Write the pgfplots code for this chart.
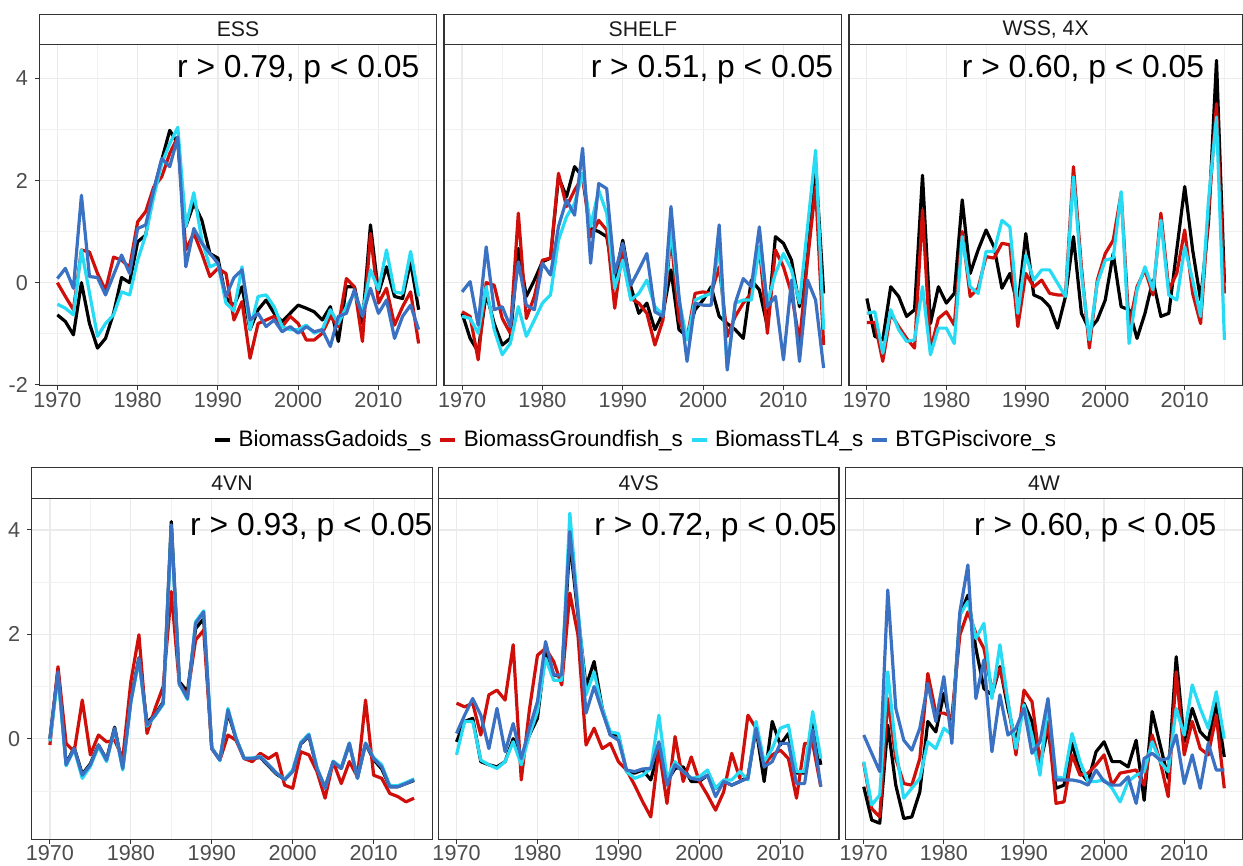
\documentclass[border=0pt]{standalone}
\usepackage{fontspec}
\setmainfont{Liberation Sans}
\usepackage{pgfplots}
\pgfplotsset{compat=1.18}
\usepackage{pgfplotstable}

\definecolor{cGad}{HTML}{000000}
\definecolor{cGro}{HTML}{D00F0A}
\definecolor{cTL}{HTML}{26DBF3}
\definecolor{cBTG}{HTML}{3B71C2}
\definecolor{grey10}{HTML}{1A1A1A}
\definecolor{grey20}{HTML}{333333}
\definecolor{grey30}{HTML}{4D4D4D}
\definecolor{grey92}{HTML}{EBEBEB}

% year, BiomassGadoids_s, BiomassGroundfish_s, BiomassTL4_s, BTGPiscivore_s
\pgfplotstableread{
year gad gro tl btg
1970 -0.63 0.00 -0.42 0.08
1971 -0.76 -0.27 -0.50 0.28
1972 -1.02 -0.53 -0.63 -0.11
1973 0.00 0.64 0.64 1.71
1974 -0.80 0.60 -0.20 0.12
1975 -1.28 0.18 -1.05 0.10
1976 -1.09 -0.15 -0.80 -0.24
1977 -0.60 0.50 -0.63 0.15
1978 0.10 0.44 -0.18 0.54
1979 0.00 0.30 -0.24 0.18
1980 0.80 1.19 0.44 1.06
1981 0.93 1.39 0.93 1.13
1982 1.81 1.87 1.68 1.81
1983 2.40 2.07 2.33 2.43
1984 2.98 2.53 2.72 2.27
1985 2.72 2.85 3.04 2.85
1986 1.10 0.64 1.10 0.31
1987 1.55 0.97 1.76 1.06
1988 1.22 0.57 0.83 0.77
1989 0.57 0.12 0.31 0.57
1990 0.48 0.28 0.38 0.38
1991 -0.30 0.18 -0.40 -0.27
1992 -0.45 -0.73 -0.55 0.10
1993 -0.08 -0.37 0.31 0.25
1994 -0.92 -1.48 -0.92 -0.73
1995 -0.53 -0.80 -0.27 -0.60
1996 -0.34 -0.73 -0.24 -0.86
1997 -0.60 -0.66 -0.47 -0.73
1998 -0.76 -0.86 -0.86 -0.96
1999 -0.60 -0.66 -0.92 -0.86
2000 -0.44 -0.80 -0.92 -0.99
2001 -0.50 -1.12 -0.83 -0.86
2002 -0.57 -1.12 -0.99 -0.96
2003 -0.73 -0.99 -0.92 -0.92
2004 -0.47 -0.66 -0.53 -1.25
2005 -1.15 -0.86 -0.80 -0.66
2006 -0.08 0.08 -0.47 -0.60
2007 -0.08 -0.08 -0.21 -0.14
2008 -0.80 -1.15 -0.60 -0.66
2009 1.13 0.96 0.25 -0.11
2010 -0.21 -0.40 -0.14 -0.60
2011 0.31 -0.11 0.64 -0.34
2012 -0.27 -0.83 -0.18 -1.09
2013 -0.31 -0.47 -0.21 -0.66
2014 0.41 -0.18 0.61 -0.44
2015 -0.53 -1.19 -0.27 -0.92
}\ess

\pgfplotstableread{
year gad gro tl btg
1970 -0.60 -0.57 -0.66 -0.18
1971 -1.09 -0.66 -0.70 0.02
1972 -1.35 -1.51 -0.99 -0.83
1973 -0.21 0.00 -0.08 0.70
1974 -0.80 -0.05 -0.92 -0.53
1975 -1.22 -0.70 -1.41 -0.47
1976 -1.09 -0.99 -1.19 -0.86
1977 0.67 1.36 -0.47 0.41
1978 -0.27 -0.70 -1.05 -0.44
1979 0.05 -0.27 -0.73 -0.53
1980 0.41 0.44 -0.40 0.38
1981 0.48 0.48 -0.24 0.15
1982 2.07 2.14 0.83 1.10
1983 1.68 1.49 1.29 1.62
1984 2.27 1.81 1.55 1.32
1985 2.07 2.07 2.14 2.63
1986 1.06 0.90 1.10 0.38
1987 1.00 1.22 1.81 1.94
1988 0.90 1.03 1.36 1.84
1989 0.05 -0.50 -0.11 0.18
1990 0.83 0.70 0.44 0.77
1991 -0.08 -0.31 -0.34 -0.05
1992 -0.60 -0.40 -0.21 0.25
1993 -0.40 -0.60 0.05 0.57
1994 -0.92 -1.22 -0.47 -0.57
1995 -0.60 -0.73 -0.63 -0.66
1996 0.25 0.90 1.03 1.49
1997 -0.92 -0.73 -0.34 -0.27
1998 -1.05 -1.09 -1.12 -1.54
1999 -0.53 -0.21 -0.34 -0.40
2000 -0.34 -0.18 -0.27 -0.44
2001 -0.08 -0.21 -0.21 -0.44
2002 -0.66 0.31 0.70 1.13
2003 -0.80 -1.05 -1.67 -1.71
2004 -0.92 -0.66 -0.40 -0.40
2005 -1.09 -0.40 -0.34 0.08
2006 0.05 -0.21 -0.34 -0.08
2007 -0.14 0.70 0.70 1.09
2008 -0.86 -0.99 -0.40 -0.47
2009 0.90 0.64 0.18 -0.27
2010 0.77 0.31 0.57 -1.51
2011 0.44 -0.21 0.25 0.05
2012 -0.47 -1.15 -0.40 -1.54
2013 0.51 0.44 1.09 0.05
2014 2.33 1.88 2.59 -0.34
2015 -0.21 -1.22 -0.92 -1.67
}\shelf

\pgfplotstableread{
year gad gro tl
1970 -0.31 -0.78 -0.60
1971 -1.05 -0.78 -0.57
1972 -1.12 -1.54 -1.38
1973 -0.08 -0.60 -0.53
1974 -0.27 -0.86 -0.92
1975 -0.66 -1.09 -1.15
1976 -0.53 -1.28 -1.12
1977 2.10 1.42 -0.08
1978 -0.80 -1.32 -1.41
1979 -0.08 -0.70 -0.89
1980 -0.40 -0.57 -0.89
1981 -0.21 -0.83 -1.19
1982 1.62 1.00 0.90
1983 0.18 -0.27 -0.08
1984 0.64 -0.11 -0.21
1985 1.03 0.51 0.61
1986 0.70 0.48 0.61
1987 -0.11 0.77 1.22
1988 0.18 0.74 1.09
1989 -0.47 -0.86 -0.60
1990 0.96 0.18 0.54
1991 -0.24 -0.08 0.05
1992 -0.31 0.05 0.25
1993 -0.47 -0.21 0.25
1994 -0.89 -0.24 -0.01
1995 -0.27 -0.24 -0.27
1996 0.90 2.27 2.07
1997 -0.60 0.31 0.18
1998 -0.92 -1.28 -1.12
1999 -0.73 0.05 -0.01
2000 -0.34 0.57 0.44
2001 0.57 0.83 0.48
2002 -0.47 1.75 1.78
2003 -0.53 -0.86 -1.19
2004 -1.09 -0.08 -0.14
2005 -0.60 0.25 0.31
2006 0.05 -0.24 -0.14
2007 -0.66 1.36 1.22
2008 -0.60 -0.14 -0.24
2009 0.64 0.18 -0.34
2010 1.88 1.03 0.70
2011 0.64 -0.21 0.05
2012 -0.34 -0.80 -0.66
2013 1.19 1.36 1.62
2014 4.35 3.50 3.24
2015 0.00 -0.21 -1.12
}\wss

\pgfplotstableread{
year gad gro tl btg
1970 0.00 -0.12 -0.05 0.00
1971 1.30 1.38 1.20 1.28
1972 -0.48 -0.09 -0.52 -0.50
1973 -0.17 -0.25 -0.20 -0.19
1974 -0.68 0.74 -0.76 -0.70
1975 -0.48 -0.31 -0.53 -0.50
1976 -0.12 0.07 -0.15 -0.12
1977 -0.40 -0.06 -0.44 -0.41
1978 0.22 -0.03 0.18 0.20
1979 -0.55 -0.38 -0.60 -0.57
1980 0.75 1.09 0.70 0.71
1981 1.55 1.99 1.50 1.54
1982 0.30 0.10 0.24 0.26
1983 0.47 0.58 0.44 0.45
1984 0.70 1.00 0.66 0.68
1985 4.16 2.82 4.05 4.10
1986 1.09 1.03 1.04 1.06
1987 0.90 0.84 0.75 0.77
1988 2.11 1.89 2.24 2.21
1989 2.30 2.08 2.45 2.43
1990 -0.18 -0.19 -0.17 -0.19
1991 -0.40 -0.41 -0.42 -0.41
1992 0.50 0.07 0.58 0.55
1993 0.00 -0.03 0.02 0.00
1994 -0.38 -0.38 -0.38 -0.38
1995 -0.38 -0.44 -0.37 -0.38
1996 -0.36 -0.28 -0.34 -0.35
1997 -0.52 -0.38 -0.50 -0.50
1998 -0.68 -0.28 -0.66 -0.66
1999 -0.78 -0.89 -0.78 -0.79
2000 -0.62 -0.95 -0.60 -0.63
2001 -0.10 -0.25 -0.07 -0.09
2002 0.05 -0.31 0.09 0.07
2003 -0.58 -0.63 -0.55 -0.57
2004 -0.93 -1.14 -0.95 -0.95
2005 -0.45 -0.44 -0.43 -0.44
2006 -0.57 -0.86 -0.55 -0.57
2007 -0.10 -0.44 -0.08 -0.09
2008 -0.75 -0.73 -0.76 -0.76
2009 -0.10 0.74 -0.08 -0.09
2010 -0.40 -0.70 -0.36 -0.38
2011 -0.58 -0.76 -0.50 -0.54
2012 -0.92 -1.05 -0.90 -0.92
2013 -0.92 -1.11 -0.90 -0.92
2014 -0.86 -1.21 -0.84 -0.86
2015 -0.80 -1.14 -0.77 -0.79
}\vn

\pgfplotstableread{
year gad gro tl btg
1970 -0.06 0.68 -0.31 0.10
1971 0.33 0.61 0.33 0.45
1972 0.39 0.68 0.33 0.77
1973 -0.44 0.07 -0.41 0.45
1974 -0.50 0.84 -0.50 -0.19
1975 -0.54 0.93 -0.57 0.58
1976 -0.44 0.74 -0.44 -0.25
1977 0.00 1.80 -0.06 0.29
1978 -0.38 -0.79 -0.50 -0.38
1979 0.07 0.55 0.07 0.20
1980 0.39 1.60 0.52 0.71
1981 1.67 1.73 1.54 1.86
1982 1.22 1.48 1.12 1.22
1983 1.19 1.03 1.12 1.22
1984 3.78 2.79 4.32 3.97
1985 2.37 1.99 2.50 2.43
1986 1.00 -0.12 0.84 0.49
1987 1.48 0.20 1.28 1.00
1988 0.58 -0.19 0.58 0.52
1989 0.07 -0.09 0.13 0.07
1990 0.07 -0.44 0.10 -0.03
1991 -0.63 -0.60 -0.63 -0.60
1992 -0.66 -0.89 -0.76 -0.63
1993 -0.60 -1.21 -0.70 -0.58
1994 -0.79 -1.50 -0.57 -0.57
1995 -0.19 -0.19 0.45 -0.06
1996 -0.82 -1.24 -0.76 -0.89
1997 -0.57 0.04 -0.44 -0.50
1998 -0.54 -0.82 -0.63 -0.63
1999 -0.82 -0.35 -0.76 -0.76
2000 -0.82 -0.82 -0.73 -0.79
2001 -0.70 -1.08 -0.60 -0.70
2002 -0.95 -1.37 -0.95 -1.11
2003 -0.82 -1.02 -0.79 -0.82
2004 -0.89 -0.28 -0.79 -0.89
2005 -0.82 -0.76 -0.63 -0.82
2006 -0.73 0.45 -0.79 -0.76
2007 0.20 0.20 0.33 0.20
2008 -0.82 -0.50 -0.44 -0.54
2009 0.33 -0.31 -0.19 -0.44
2010 -0.12 -0.22 0.20 -0.09
2011 0.10 -0.38 0.26 -0.09
2012 -0.66 -1.14 -0.63 -0.86
2013 -0.66 -0.09 -0.63 -0.86
2014 0.33 -0.09 0.52 0.17
2015 -0.50 -0.92 -0.38 -0.92
}\vs

\pgfplotstableread{
year gad gro tl btg
1970 -0.92 -0.47 -0.44 0.07
1971 -1.56 -1.34 -1.27 -0.28
1972 -1.62 -1.50 -1.08 -0.63
1973 0.26 0.77 1.28 2.85
1974 -0.89 -0.38 -0.19 0.58
1975 -1.53 -0.86 -1.14 -0.03
1976 -1.50 -0.89 -0.95 -0.22
1977 -1.02 -0.38 -0.76 0.20
1978 0.33 1.25 -0.06 1.06
1979 0.13 0.49 -0.19 0.33
1980 0.87 0.49 0.20 1.19
1981 0.20 0.42 0.07 -0.09
1982 2.37 1.99 2.37 2.43
1983 2.75 2.43 2.63 3.33
1984 1.73 2.02 1.92 0.77
1985 0.96 1.73 2.21 1.51
1986 0.84 0.93 0.77 -0.25
1987 1.38 1.35 1.80 0.84
1988 0.58 0.71 0.71 0.07
1989 -0.06 -0.31 -0.19 0.20
1990 0.68 0.93 0.65 0.58
1991 0.33 0.71 0.07 -0.28
1992 -0.50 -0.44 -0.70 -0.06
1993 0.20 0.33 0.71 0.77
1994 -0.95 -1.24 -0.73 -0.79
1995 -0.89 -1.21 -0.76 -0.79
1996 -0.09 -0.31 0.10 -0.79
1997 -0.63 -0.70 -0.44 -0.82
1998 -0.82 -0.66 -0.82 -0.89
1999 -0.25 -0.50 -0.82 -0.60
2000 -0.06 -0.31 -0.79 -0.82
2001 -0.44 -0.89 -0.95 -0.89
2002 -0.44 -0.66 -1.21 -0.89
2003 -0.54 -0.63 -0.82 -0.73
2004 -0.03 -0.60 -0.70 -1.24
2005 -1.18 -0.89 -0.63 -0.38
2006 0.52 0.07 -0.06 -0.28
2007 -0.12 -0.44 -0.44 -0.41
2008 -0.76 -1.11 -0.63 -0.38
2009 1.57 1.28 0.58 0.07
2010 -0.06 -0.31 0.07 -0.86
2011 0.58 0.33 1.03 -0.31
2012 0.13 -0.19 0.58 -0.95
2013 -0.03 -0.31 0.20 -0.09
2014 0.68 0.45 0.90 -0.60
2015 -0.35 -0.95 0.00 -0.60
}\w

\tikzset{rtext/.style={font=\fontsize{15.9}{19}\selectfont}}

\pgfplotsset{
  panel/.style={
    scale only axis, height=170.5pt,
    xmin=1967.75, xmax=2017.25,
    xtick={1970,1980,1990,2000,2010},
    xticklabels={1970,1980,1990,2000,2010},
    minor xtick={1975,1985,1995,2005,2015},
    minor ytick={-1,1,3},
    grid=both,
    major grid style={grey92, line width=0.6pt},
    minor grid style={grey92!70, line width=0.3pt},
    axis line style={grey20, line width=0.55pt},
    tick align=outside, major tick length=2.2pt, minor tick length=0pt,
    tick style={grey20, line width=0.5pt},
    xtick pos=lower, ytick pos=left,
    ticklabel style={font=\fontsize{10.8}{12}\selectfont, text=grey30},
    xticklabel style={yshift=2.6pt},
    clip=false,
    every axis plot/.append style={line width=1.6pt, line join=round},
  },
  toprow/.style={panel, ymin=-2.016, ymax=4.657,
    ytick={-2,0,2,4}, yticklabels={-2,0,2,4}},
  botrow/.style={panel, ymin=-1.928, ymax=4.607,
    ytick={0,2,4}, yticklabels={0,2,4}},
  inner/.style={yticklabels={}, ytick style={draw=none}},
}

\newcommand{\strip}[1]{%
  \draw[grey20, fill=white, line width=0.55pt] (rel axis cs:0,1) rectangle ([yshift=15.3pt]rel axis cs:1,1);
  \node[font=\fontsize{10.6}{12}\selectfont, text=grey10] at ([yshift=7.65pt]rel axis cs:0.5,1) {#1};}

\begin{document}
\begin{tikzpicture}
\useasboundingbox (0,0) rectangle (621.5pt,433pt);

% ESS
\begin{axis}[toprow, at={(19.65pt,240.15pt)}, anchor=south west, width=198.7pt,
  legend style={at={(0.4371,-0.1592)}, anchor=west, draw=none, fill=none,
    legend columns=4, font=\fontsize{11.2}{13}\selectfont, inner sep=0pt,
    nodes={inner sep=0.5pt},
    /tikz/every odd column/.append style={column sep=3pt},
    /tikz/every even column/.append style={column sep=3pt}},
  legend image code/.code={\draw[#1] (0pt,0pt) -- (7.5pt,0pt);}]
\addplot[cGad] table[x=year,y=gad]{\ess}; \addlegendentry{BiomassGadoids\_s}
\addplot[cGro] table[x=year,y=gro]{\ess}; \addlegendentry{BiomassGroundfish\_s}
\addplot[cTL] table[x=year,y=tl]{\ess}; \addlegendentry{BiomassTL4\_s}
\addplot[cBTG] table[x=year,y=btg]{\ess}; \addlegendentry{BTGPiscivore\_s}
\node[rtext] at (axis cs:2000.0,4.16) {r > 0.79, p < 0.05};
\strip{ESS}
\end{axis}

% SHELF
\begin{axis}[toprow, inner, at={(222pt,240.15pt)}, anchor=south west, width=198.85pt]
\addplot[cGad] table[x=year,y=gad]{\shelf};
\addplot[cGro] table[x=year,y=gro]{\shelf};
\addplot[cTL] table[x=year,y=tl]{\shelf};
\addplot[cBTG] table[x=year,y=btg]{\shelf};
\node[rtext] at (axis cs:2001.1,4.16) {r > 0.51, p < 0.05};
\strip{SHELF}
\end{axis}

% WSS, 4X
\begin{axis}[toprow, inner, at={(424.5pt,240.15pt)}, anchor=south west, width=196.65pt]
\addplot[cGad] table[x=year,y=gad]{\wss};
\addplot[cGro] table[x=year,y=gro]{\wss};
\addplot[cTL] table[x=year,y=tl]{\wss};
\node[rtext] at (axis cs:1997.2,4.16) {r > 0.60, p < 0.05};
\strip{WSS, 4X}
\end{axis}

% 4VN
\begin{axis}[botrow, at={(15.85pt,13.35pt)}, anchor=south west, width=200.3pt]
\addplot[cGad] table[x=year,y=gad]{\vn};
\addplot[cGro] table[x=year,y=gro]{\vn};
\addplot[cTL] table[x=year,y=tl]{\vn};
\addplot[cBTG] table[x=year,y=btg]{\vn};
\node[rtext] at (axis cs:2002.3,4.05) {r > 0.93, p < 0.05};
\strip{4VN}
\end{axis}

% 4VS
\begin{axis}[botrow, inner, at={(219.15pt,13.35pt)}, anchor=south west, width=200.35pt]
\addplot[cGad] table[x=year,y=gad]{\vs};
\addplot[cGro] table[x=year,y=gro]{\vs};
\addplot[cTL] table[x=year,y=tl]{\vs};
\addplot[cBTG] table[x=year,y=btg]{\vs};
\node[rtext] at (axis cs:2002.0,4.05) {r > 0.72, p < 0.05};
\strip{4VS}
\end{axis}

% 4W
\begin{axis}[botrow, inner, at={(422.85pt,13.35pt)}, anchor=south west, width=198.3pt]
\addplot[cGad] table[x=year,y=gad]{\w};
\addplot[cGro] table[x=year,y=gro]{\w};
\addplot[cTL] table[x=year,y=tl]{\w};
\addplot[cBTG] table[x=year,y=btg]{\w};
\node[rtext] at (axis cs:1998.9,4.05) {r > 0.60, p < 0.05};
\strip{4W}
\end{axis}
\end{tikzpicture}
\end{document}
